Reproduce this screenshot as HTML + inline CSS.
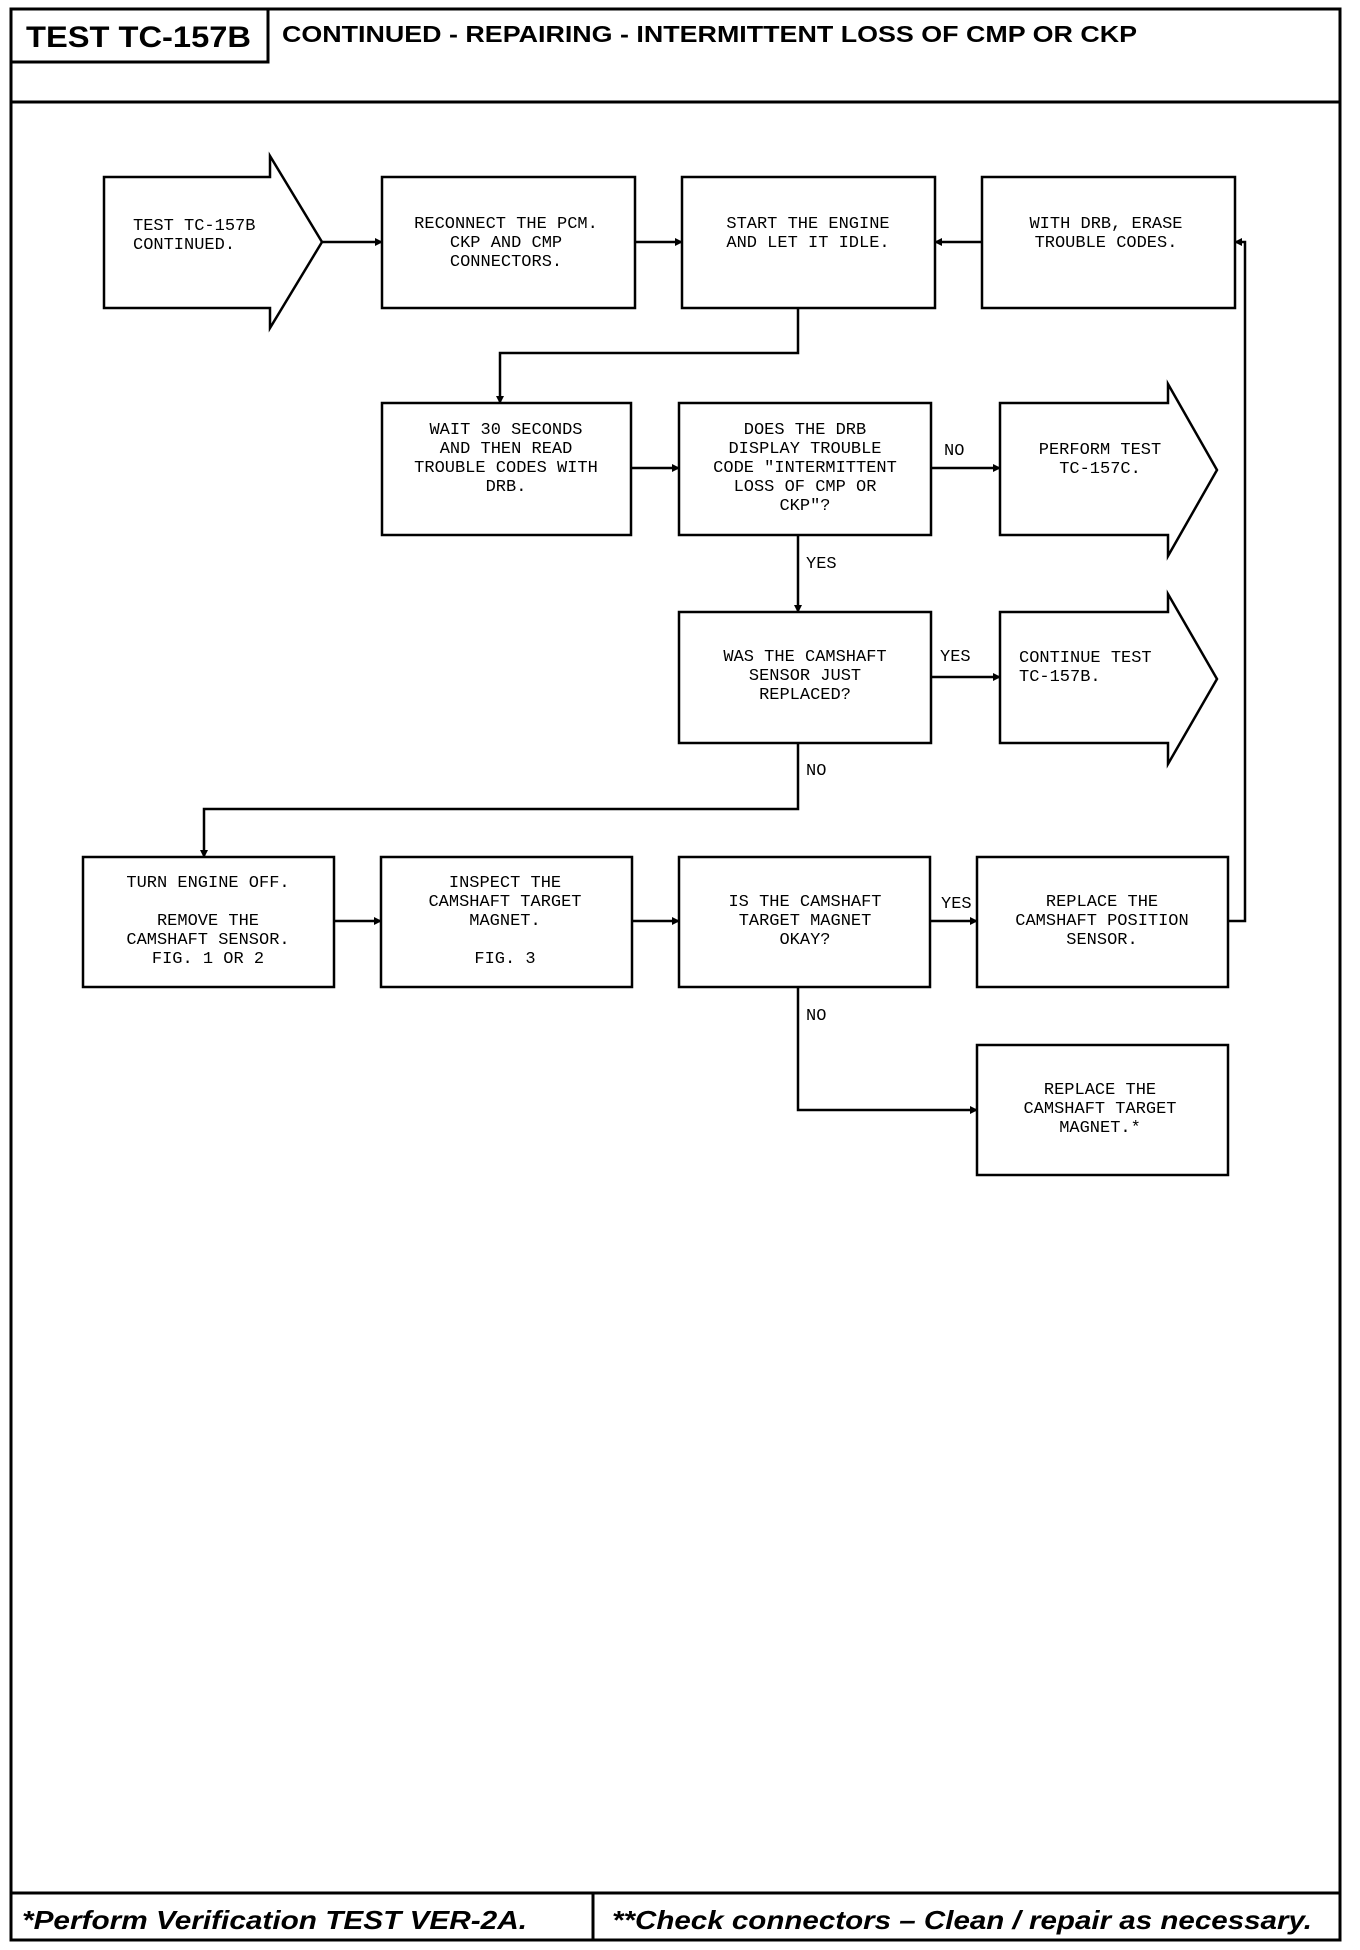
<!DOCTYPE html>
<html><head><meta charset="utf-8"><style>
html,body{margin:0;padding:0;background:#fff;}
svg{display:block;}
.t{font-family:"Liberation Mono",monospace;font-size:17px;fill:#000;text-anchor:middle;}
.l{font-family:"Liberation Mono",monospace;font-size:17px;fill:#000;}
.h{font-family:"Liberation Sans",sans-serif;font-weight:bold;fill:#000;}
</style></head><body>
<svg width="1360" height="1950" viewBox="0 0 1360 1950" xmlns="http://www.w3.org/2000/svg">
<defs><marker id="a" markerWidth="8" markerHeight="8" refX="7" refY="4" orient="auto" markerUnits="userSpaceOnUse"><path d="M0,0 L8,4 L0,8 z" fill="#000"/></marker></defs>
<g fill="none" stroke="#000" stroke-width="3">
<rect x="11" y="9" width="1329" height="1931"/>
<line x1="11" y1="102" x2="1340" y2="102"/>
<rect x="11" y="9" width="257" height="53"/>
<line x1="11" y1="1893" x2="1340" y2="1893"/>
<line x1="593" y1="1893" x2="593" y2="1940"/>
</g>
<text class="h" x="26" y="47" font-size="30" textLength="225" lengthAdjust="spacingAndGlyphs">TEST TC-157B</text>
<text class="h" x="282" y="42" font-size="23" textLength="855" lengthAdjust="spacingAndGlyphs">CONTINUED - REPAIRING - INTERMITTENT LOSS OF CMP OR CKP</text>
<text class="h" x="22" y="1929" font-size="26" font-style="italic" textLength="505" lengthAdjust="spacingAndGlyphs">*Perform Verification TEST VER-2A.</text>
<text class="h" x="612" y="1929" font-size="26" font-style="italic" textLength="700" lengthAdjust="spacingAndGlyphs">**Check connectors – Clean / repair as necessary.</text>

<g fill="none" stroke="#000" stroke-width="2.5">
<path d="M104,177 L270,177 L270,156 L322,242 L270,328 L270,308 L104,308 Z"/>
<rect x="382" y="177" width="253" height="131"/>
<rect x="682" y="177" width="253" height="131"/>
<rect x="982" y="177" width="253" height="131"/>
<rect x="382" y="403" width="249" height="132"/>
<rect x="679" y="403" width="252" height="132"/>
<path d="M1000,403 L1168,403 L1168,384 L1217,470 L1168,556 L1168,535 L1000,535 Z"/>
<rect x="679" y="612" width="252" height="131"/>
<path d="M1000,612 L1168,612 L1168,594 L1217,679 L1168,764 L1168,743 L1000,743 Z"/>
<rect x="83" y="857" width="251" height="130"/>
<rect x="381" y="857" width="251" height="130"/>
<rect x="679" y="857" width="251" height="130"/>
<rect x="977" y="857" width="251" height="130"/>
<rect x="977" y="1045" width="251" height="130"/>
</g>
<g fill="none" stroke="#000" stroke-width="2.5" marker-end="url(#a)">
<line x1="322" y1="242" x2="382" y2="242"/>
<line x1="635" y1="242" x2="682" y2="242"/>
<line x1="982" y1="242" x2="935" y2="242"/>
<path d="M798,308 L798,353 L500,353 L500,403"/>
<line x1="631" y1="468" x2="679" y2="468"/>
<line x1="931" y1="468" x2="1000" y2="468"/>
<line x1="798" y1="535" x2="798" y2="612"/>
<line x1="931" y1="677" x2="1000" y2="677"/>
<path d="M798,743 L798,809 L204,809 L204,857"/>
<line x1="334" y1="921" x2="381" y2="921"/>
<line x1="632" y1="921" x2="679" y2="921"/>
<line x1="930" y1="921" x2="977" y2="921"/>
<path d="M1228,921 L1245,921 L1245,242 L1235,242"/>
<path d="M798,987 L798,1110 L977,1110"/>
</g>
<text class="l" x="133" y="230">TEST TC-157B</text><text class="l" x="133" y="249">CONTINUED.</text>
<text class="t" x="506" y="228">RECONNECT THE PCM.</text><text class="t" x="506" y="247">CKP AND CMP</text><text class="t" x="506" y="266">CONNECTORS.</text>
<text class="t" x="808" y="228">START THE ENGINE</text><text class="t" x="808" y="247">AND LET IT IDLE.</text>
<text class="t" x="1106" y="228">WITH DRB, ERASE</text><text class="t" x="1106" y="247">TROUBLE CODES.</text>

<text class="t" x="506" y="434">WAIT 30 SECONDS</text><text class="t" x="506" y="453">AND THEN READ</text><text class="t" x="506" y="472">TROUBLE CODES WITH</text><text class="t" x="506" y="491">DRB.</text>
<text class="t" x="805" y="434">DOES THE DRB</text><text class="t" x="805" y="453">DISPLAY TROUBLE</text><text class="t" x="805" y="472">CODE "INTERMITTENT</text><text class="t" x="805" y="491">LOSS OF CMP OR</text><text class="t" x="805" y="510">CKP"?</text>
<text class="l" x="944" y="455">NO</text>
<text class="t" x="1100" y="454">PERFORM TEST</text><text class="t" x="1100" y="473">TC-157C.</text>
<text class="l" x="806" y="568">YES</text>
<text class="t" x="805" y="661">WAS THE CAMSHAFT</text><text class="t" x="805" y="680">SENSOR JUST</text><text class="t" x="805" y="699">REPLACED?</text>
<text class="l" x="940" y="661">YES</text>
<text class="l" x="1019" y="662">CONTINUE TEST</text><text class="l" x="1019" y="681">TC-157B.</text>
<text class="l" x="806" y="775">NO</text>

<text class="t" x="208" y="887">TURN ENGINE OFF.</text><text class="t" x="208" y="925">REMOVE THE</text><text class="t" x="208" y="944">CAMSHAFT SENSOR.</text><text class="t" x="208" y="963">FIG. 1 OR 2</text>
<text class="t" x="505" y="887">INSPECT THE</text><text class="t" x="505" y="906">CAMSHAFT TARGET</text><text class="t" x="505" y="925">MAGNET.</text><text class="t" x="505" y="963">FIG. 3</text>
<text class="t" x="805" y="906">IS THE CAMSHAFT</text><text class="t" x="805" y="925">TARGET MAGNET</text><text class="t" x="805" y="944">OKAY?</text>
<text class="l" x="941" y="908">YES</text>
<text class="t" x="1102" y="906">REPLACE THE</text><text class="t" x="1102" y="925">CAMSHAFT POSITION</text><text class="t" x="1102" y="944">SENSOR.</text>
<text class="l" x="806" y="1020">NO</text>
<text class="t" x="1100" y="1094">REPLACE THE</text><text class="t" x="1100" y="1113">CAMSHAFT TARGET</text><text class="t" x="1100" y="1132">MAGNET.*</text>
</svg>
</body></html>
